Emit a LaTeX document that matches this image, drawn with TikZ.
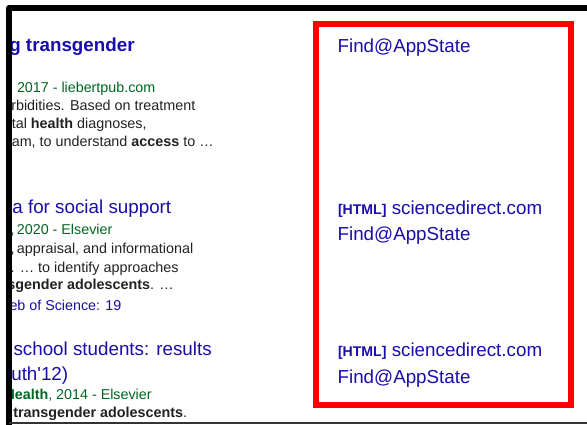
\documentclass[tikz,border=0pt]{standalone}
\usepackage{fontspec}
\setmainfont{Liberation Sans}[Ligatures=TeXOff]
\definecolor{linkblue}{HTML}{1A0DAB}
\definecolor{metagreen}{HTML}{006621}
\definecolor{bodygray}{HTML}{222222}
\definecolor{framered}{HTML}{FF0000}
\tikzset{
  txt/.style={anchor=base west, inner sep=0pt, outer sep=0pt},
  titletxt/.style={txt, text=linkblue, font=\fontsize{18.8}{22}\selectfont},
  metatxt/.style={txt, text=metagreen, font=\fontsize{14.3}{17}\selectfont},
  bodytxt/.style={txt, text=bodygray, font=\fontsize{14.35}{17}\selectfont},
  smalllink/.style={txt, text=linkblue, font=\fontsize{14.3}{17}\selectfont},
  linktxt/.style={txt, text=linkblue, font=\fontsize{18.8}{22}\selectfont},
  redframe/.style={draw=framered, line width=6pt},
  blackframe/.style={draw=black, line width=6pt, line join=round},
  baseline rule/.style={draw=black!80, line width=1.5pt}
}
\newcommand{\tagHTML}{{\bfseries\fontsize{14.1}{17}\selectfont [HTML]}}
\begin{document}
\begin{tikzpicture}[x=1pt,y=-1pt]
\useasboundingbox[fill=white] (0,0) rectangle (587,425);

% left column: search results (clipped at the left edge)
\begin{scope}
\clip (11.5,0) rectangle (310,425);
% result 1
\node[titletxt] (t1) at (9.3,51.7) {\bfseries g transgender};
\node[metatxt] (m1) at (17,92.3) {2017 - liebertpub.com};
\node[bodytxt] (b1a) at (11.3,111) {rbidities. Based on treatment};
\node[bodytxt] (b1b) at (11.8,128.7) {tal \textbf{health} diagnoses,};
\node[bodytxt] (b1c) at (11.8,146.7) {am, to understand \textbf{access} to …};
% result 2
\node[titletxt] (t2) at (12.4,213.3) {a for social support};
\node[metatxt] (m2) at (10.6,235) {,\hspace{-1.6pt} 2020 - Elsevier};
\node[bodytxt] (b2a) at (10.6,254) {,\hspace{-1.6pt} appraisal, and informational};
\node[bodytxt] (b2b) at (10.6,272.3) {. … to identify approaches};
\node[bodytxt] (b2c) at (7.3,290) {\textbf{sgender adolescents}. …};
\node[smalllink] (w2) at (9.5,310) {eb of Science: 19};
% result 3
\node[titletxt] (t3a) at (13.5,355) { school students: results};
\node[titletxt] (t3b) at (11.3,380) {uth'12)};
\node[metatxt] (m3) at (4.6,399) {\textbf{Health}, 2014 - Elsevier};
\node[bodytxt] (b3) at (13.3,417.3) {\textbf{transgender adolescents}.};
\end{scope}

% right column: links inside the red frame
\node[linktxt] (f1) at (337.6,52.3) {Find@AppState};
\node[linktxt] (h2) at (338,214.3) {\tagHTML\ sciencedirect.com};
\node[linktxt] (f2) at (337.6,240.7) {Find@AppState};
\node[linktxt] (h3) at (338,356) {\tagHTML\ sciencedirect.com};
\node[linktxt] (f3) at (337.6,383.3) {Find@AppState};

% frames
\draw[redframe] (316,24) rectangle (571,405);
\draw[blackframe] (9.2,426) -- (9.2,8) -- (588,8);
\draw[baseline rule] (9,423.2) -- (587,423.2);
\end{tikzpicture}
\end{document}
